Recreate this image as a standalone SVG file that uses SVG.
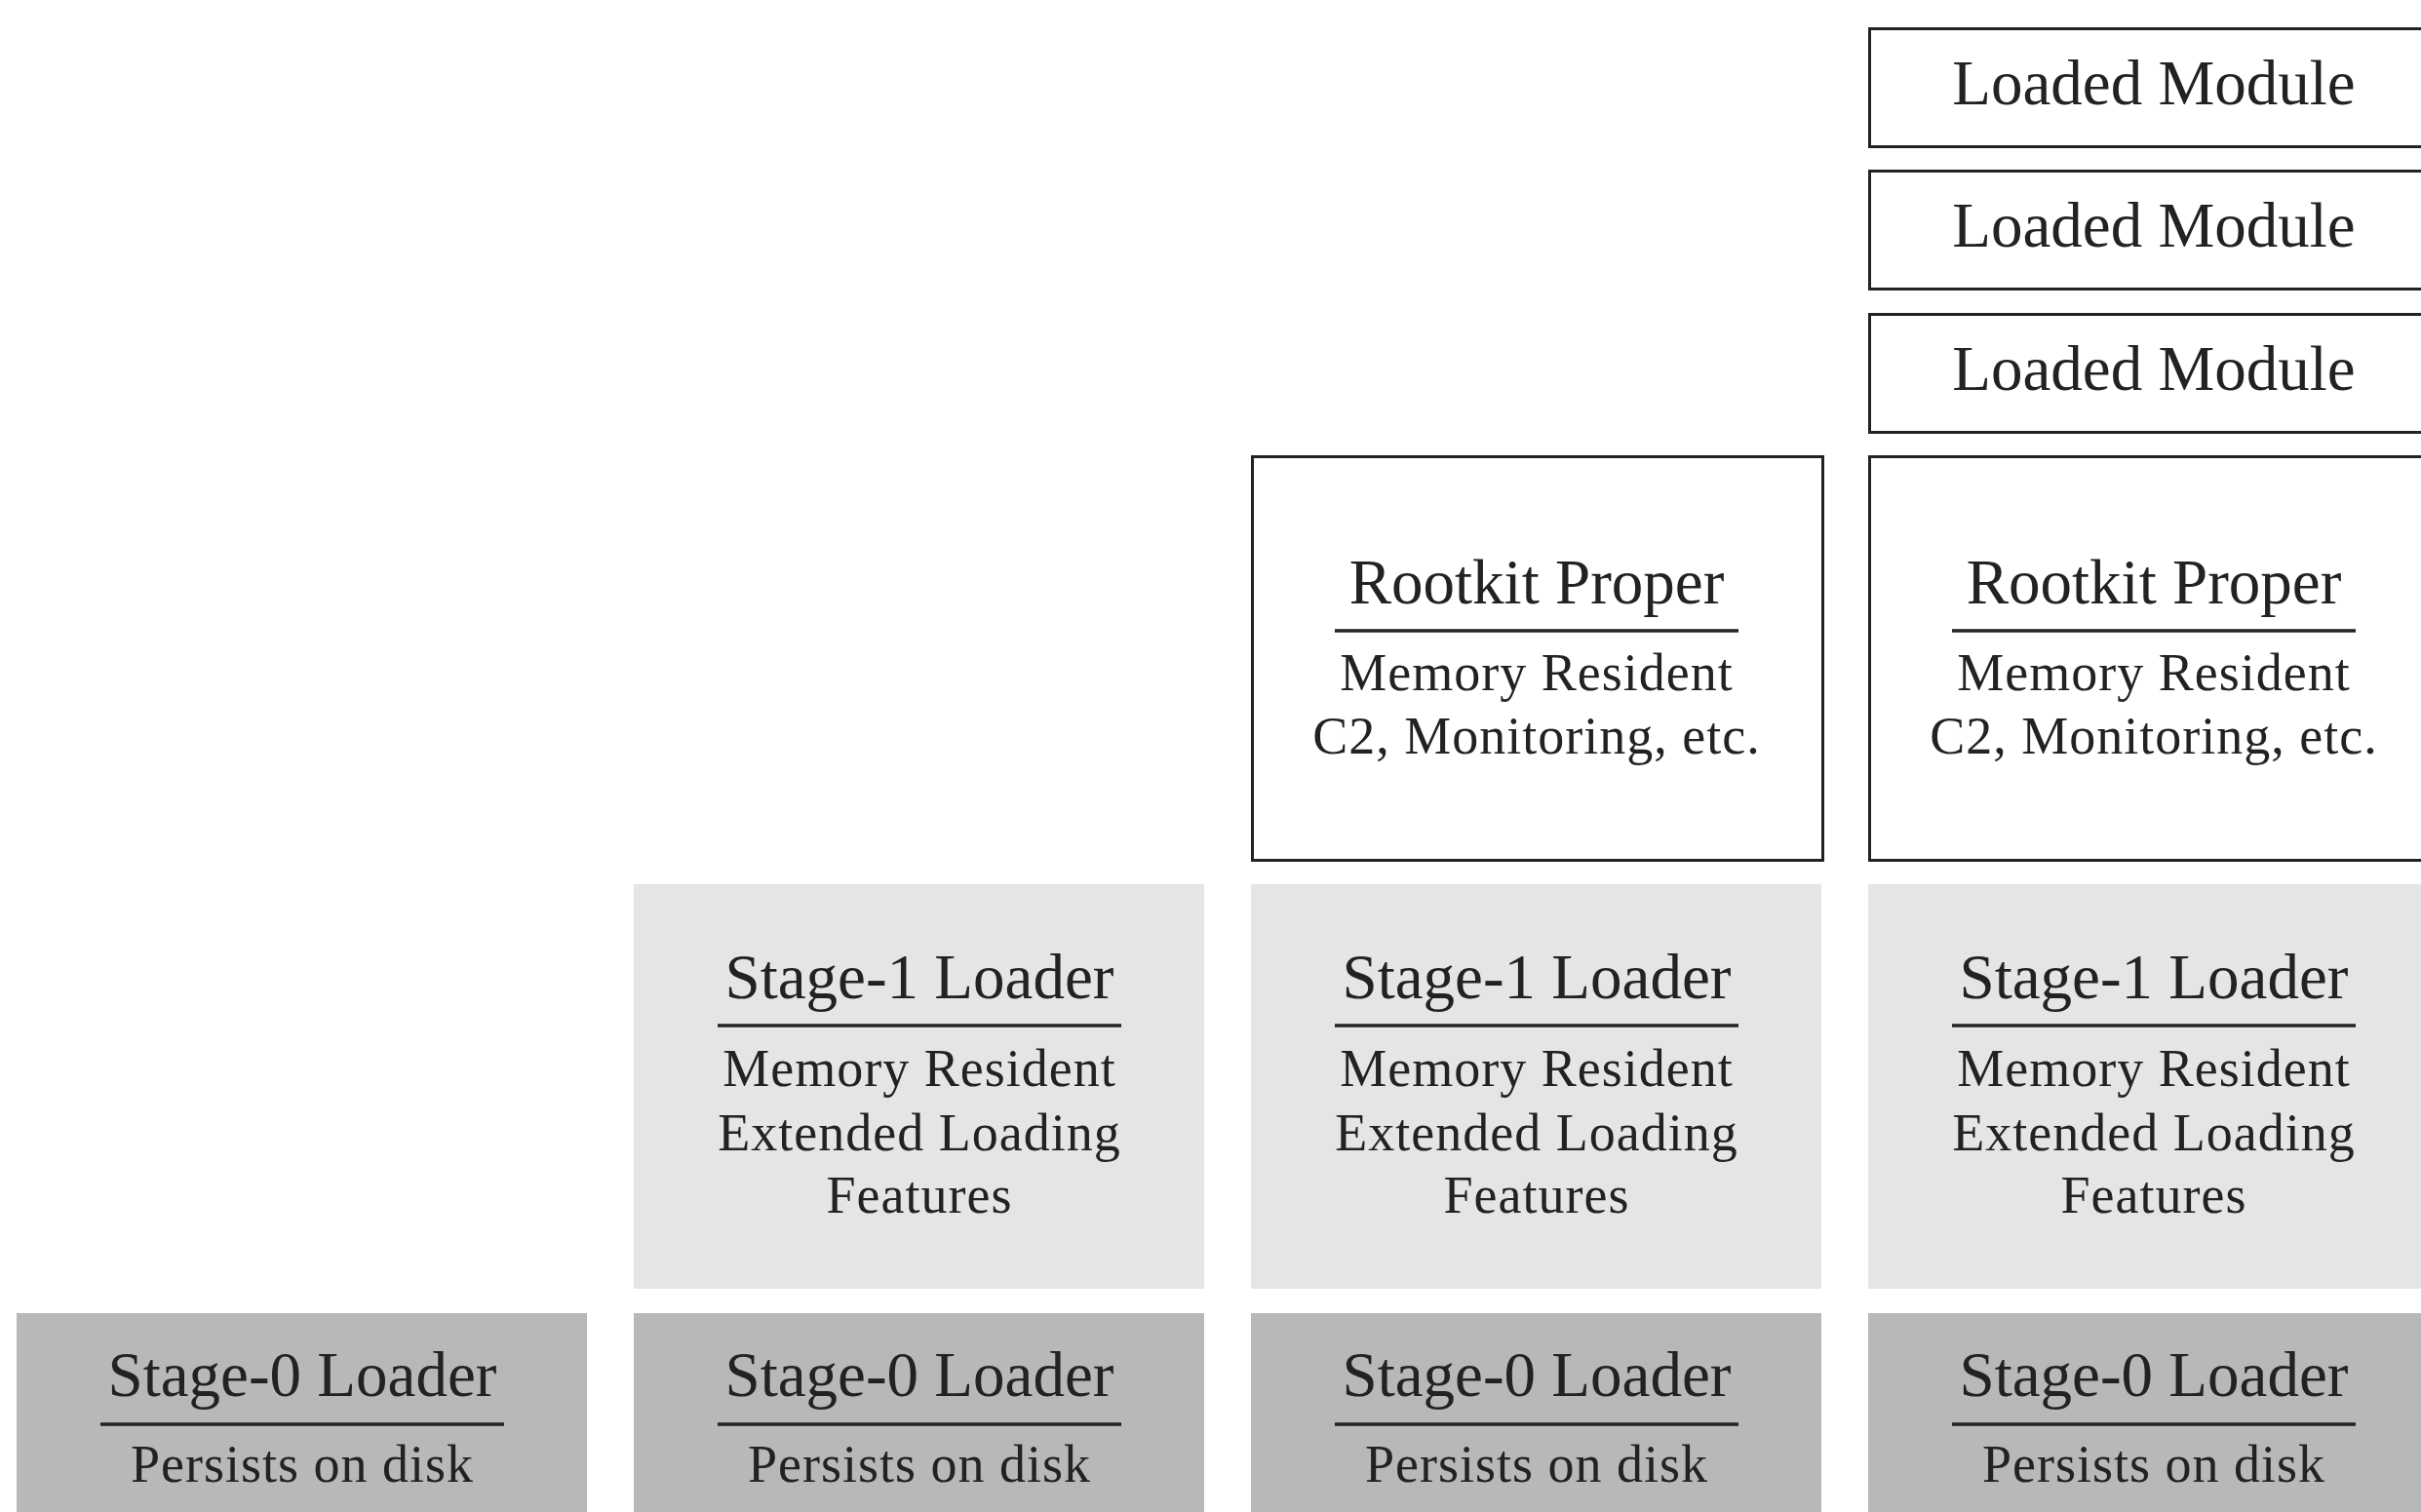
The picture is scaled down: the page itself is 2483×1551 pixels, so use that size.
<svg xmlns="http://www.w3.org/2000/svg" width="2483" height="1551" viewBox="0 0 2483 1551">
  <style>
    .s0 { fill: #b8b8b8; }
    .s1 { fill: #e5e5e5; }
    .box { fill: #ffffff; stroke: #222222; stroke-width: 3; }
    .rule { stroke: #222222; stroke-width: 3.5; }
    text { font-family: "Liberation Serif", "Times New Roman", serif; fill: #222222; text-anchor: middle; }
    .h { font-size: 65px; }
    .sub { font-size: 54px; letter-spacing: 1px; }
  </style>
  <rect width="2483" height="1551" fill="#ffffff"/>

  <!-- Stage-0 loaders (bottom row) -->
  <g id="stage0-a">
    <rect class="s0" x="17" y="1347" width="585" height="210"/>
    <text class="h" x="310" y="1432">Stage-0 Loader</text>
    <line class="rule" x1="103" y1="1461" x2="517" y2="1461"/>
    <text class="sub" x="310" y="1520">Persists on disk</text>
  </g>
  <g id="stage0-b">
    <rect class="s0" x="650" y="1347" width="585" height="210"/>
    <text class="h" x="943" y="1432">Stage-0 Loader</text>
    <line class="rule" x1="736" y1="1461" x2="1150" y2="1461"/>
    <text class="sub" x="943" y="1520">Persists on disk</text>
  </g>
  <g id="stage0-c">
    <rect class="s0" x="1283" y="1347" width="585" height="210"/>
    <text class="h" x="1576" y="1432">Stage-0 Loader</text>
    <line class="rule" x1="1369" y1="1461" x2="1783" y2="1461"/>
    <text class="sub" x="1576" y="1520">Persists on disk</text>
  </g>
  <g id="stage0-d">
    <rect class="s0" x="1916" y="1347" width="600" height="210"/>
    <text class="h" x="2209" y="1432">Stage-0 Loader</text>
    <line class="rule" x1="2002" y1="1461" x2="2416" y2="1461"/>
    <text class="sub" x="2209" y="1520">Persists on disk</text>
  </g>

  <!-- Stage-1 loaders -->
  <g id="stage1-b">
    <rect class="s1" x="650" y="907" width="585" height="415"/>
    <text class="h" x="943" y="1024">Stage-1 Loader</text>
    <line class="rule" x1="736" y1="1052" x2="1150" y2="1052"/>
    <text class="sub" x="943" y="1114">Memory Resident</text>
    <text class="sub" x="943" y="1180">Extended Loading</text>
    <text class="sub" x="943" y="1244">Features</text>
  </g>
  <g id="stage1-c">
    <rect class="s1" x="1283" y="907" width="585" height="415"/>
    <text class="h" x="1576" y="1024">Stage-1 Loader</text>
    <line class="rule" x1="1369" y1="1052" x2="1783" y2="1052"/>
    <text class="sub" x="1576" y="1114">Memory Resident</text>
    <text class="sub" x="1576" y="1180">Extended Loading</text>
    <text class="sub" x="1576" y="1244">Features</text>
  </g>
  <g id="stage1-d">
    <rect class="s1" x="1916" y="907" width="600" height="415"/>
    <text class="h" x="2209" y="1024">Stage-1 Loader</text>
    <line class="rule" x1="2002" y1="1052" x2="2416" y2="1052"/>
    <text class="sub" x="2209" y="1114">Memory Resident</text>
    <text class="sub" x="2209" y="1180">Extended Loading</text>
    <text class="sub" x="2209" y="1244">Features</text>
  </g>

  <!-- Rootkit proper -->
  <g id="rootkit-c">
    <rect class="box" x="1284.5" y="468.5" width="585" height="414"/>
    <text class="h" x="1576" y="619">Rootkit Proper</text>
    <line class="rule" x1="1369" y1="647" x2="1783" y2="647"/>
    <text class="sub" x="1576" y="708">Memory Resident</text>
    <text class="sub" x="1576" y="773">C2, Monitoring, etc.</text>
  </g>
  <g id="rootkit-d">
    <rect class="box" x="1917.5" y="468.5" width="600" height="414"/>
    <text class="h" x="2209" y="619">Rootkit Proper</text>
    <line class="rule" x1="2002" y1="647" x2="2416" y2="647"/>
    <text class="sub" x="2209" y="708">Memory Resident</text>
    <text class="sub" x="2209" y="773">C2, Monitoring, etc.</text>
  </g>

  <!-- Loaded modules -->
  <g id="module-3">
    <rect class="box" x="1917.5" y="322.5" width="600" height="121"/>
    <text class="h" x="2209" y="400">Loaded Module</text>
  </g>
  <g id="module-2">
    <rect class="box" x="1917.5" y="175.5" width="600" height="121"/>
    <text class="h" x="2209" y="253">Loaded Module</text>
  </g>
  <g id="module-1">
    <rect class="box" x="1917.5" y="29.5" width="600" height="121"/>
    <text class="h" x="2209" y="107">Loaded Module</text>
  </g>

  <!-- no connectors in this diagram -->
  <g id="connectors"/>
</svg>
